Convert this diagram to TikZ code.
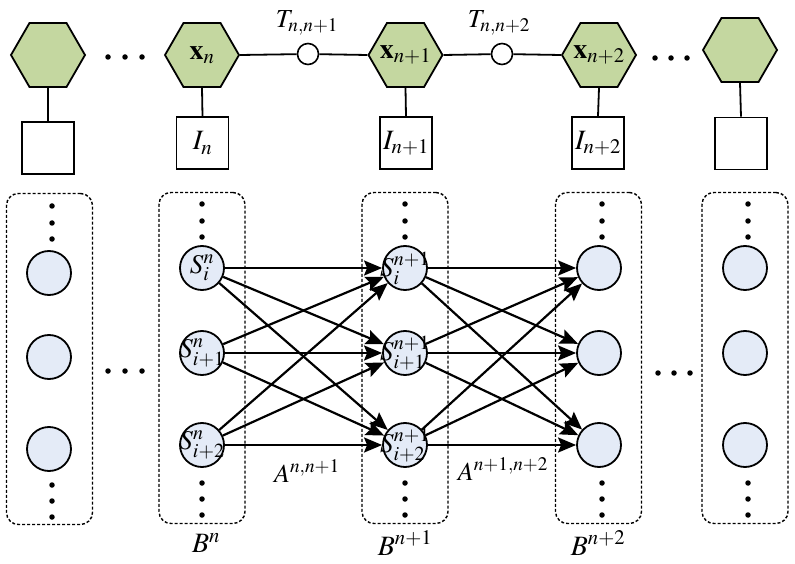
\documentclass[tikz,border=0pt]{standalone}
\usepackage{mathptmx}
\usetikzlibrary{shapes.geometric,arrows.meta}
\definecolor{hexgreen}{RGB}{196,215,160}
\definecolor{circblue}{RGB}{228,235,247}
\begin{document}
\begin{tikzpicture}[x=1pt,y=-1pt,
  hexnode/.style={regular polygon, regular polygon sides=6, minimum size=74pt, inner sep=0pt, draw, line width=1.8pt, fill=hexgreen},
  sqnode/.style={draw, line width=1.6pt, minimum size=52pt, inner sep=0pt, fill=white},
  tnode/.style={circle, draw, line width=1.6pt, minimum size=21pt, inner sep=0pt, fill=white},
  stnode/.style={circle, draw, line width=1.8pt, minimum size=44pt, inner sep=0pt, fill=circblue},
  boxnode/.style={draw, densely dashed, line width=1.4pt, rounded corners=12pt, minimum width=86pt, minimum height=331pt, inner sep=0pt},
  link/.style={line width=1.8pt},
  arr/.style={line width=2.2pt, -{Stealth[length=18pt,width=15pt,inset=3pt]}},
  intext/.style={font=\fontsize{28}{30}\selectfont, inner sep=0pt},
  sttext/.style={font=\fontsize{27}{29}\selectfont, inner sep=0pt},
  lab/.style={font=\fontsize{26}{28}\selectfont, inner sep=0pt},
  blab/.style={font=\fontsize{28}{30}\selectfont, inner sep=0pt},
  tlab/.style={font=\fontsize{26}{28}\selectfont, inner sep=0pt},
  dotn/.style={circle, fill=black, inner sep=0pt, minimum size=5.5pt}
]
\useasboundingbox (0,0) rectangle (795,564);

% dashed boxes
\node[boxnode] (b0) at (49.5,359) {};
\node[boxnode] (b1) at (202,358) {};
\node[boxnode] (b2) at (405,358) {};
\node[boxnode] (b3) at (598.5,358) {};
\node[boxnode] (b4) at (745,358) {};

% top row
\node[hexnode] (h0) at (48,55) {};
\node[hexnode] (h1) at (202,55) {};
\node[hexnode] (h2) at (405.5,55) {};
\node[hexnode] (h3) at (599,55) {};
\node[hexnode] (h4) at (740,50) {};
\node[intext] (h1t) at (h1) {$\mathbf{x}_{n}$};
\node[intext] (h2t) at (h2) {$\mathbf{x}_{n+1}$};
\node[intext] (h3t) at (h3) {$\mathbf{x}_{n+2}$};

\node[sqnode] (q0) at (48,148) {};
\node[sqnode] (q1) at (202.5,143) {};
\node[sqnode] (q2) at (406,143) {};
\node[sqnode] (q3) at (598,143) {};
\node[sqnode] (q4) at (741,143.5) {};
\node[intext] (q1t) at (q1) {$I_{n}$};
\node[intext] (q2t) at (q2) {$I_{n+1}$};
\node[intext] (q3t) at (q3) {$I_{n+2}$};

\node[tnode] (t1) at (308,54) {};
\node[tnode] (t2) at (502,54) {};
\node[tlab] (tl1) at (307,23) {$T_{n,n+1}$};
\node[tlab] (tl2) at (499,23) {$T_{n,n+2}$};

\draw[link] (h1.east) -- (t1) -- (h2.west);
\draw[link] (h2.east) -- (t2) -- (h3.west);
\foreach \i in {0,...,4} {\draw[link] (h\i.south) -- (q\i.north);}

% dots top
\foreach \x in {108,125,142} {\node[dotn] at (\x,57) {};}
\foreach \x in {655,671,687} {\node[dotn] at (\x,58) {};}
% dots middle
\foreach \x in {108,125,142} {\node[dotn] at (\x,371) {};}
\foreach \x in {658,674,690} {\node[dotn] at (\x,373) {};}

% state circles
\node[stnode] (s01) at (49,273) {};
\node[stnode] (s02) at (49,357) {};
\node[stnode] (s03) at (49,449) {};
\node[stnode] (s11) at (202,268) {};
\node[stnode] (s12) at (202,353) {};
\node[stnode] (s13) at (202,445) {};
\node[stnode] (s21) at (405,268) {};
\node[stnode] (s22) at (405,353) {};
\node[stnode] (s23) at (405,445) {};
\node[stnode] (s31) at (599,268) {};
\node[stnode] (s32) at (599,353) {};
\node[stnode] (s33) at (599,445) {};
\node[stnode] (s41) at (745,268) {};
\node[stnode] (s42) at (745,353) {};
\node[stnode] (s43) at (745,445) {};

% vertical dots in boxes
\foreach \x/\o in {52/2,202/0,405/0,602/0,748/0} {
  \foreach \y in {204,221,237} {\node[dotn] at (\x,\y+\o) {};}
  \foreach \y in {483,499,515} {\node[dotn] at (\x,\y+\o) {};}
}

% transitions
\foreach \a in {1,2,3} {
  \foreach \b in {1,2,3} {
    \draw[arr] (s1\a) -- (s2\b);
    \draw[arr] (s2\a) -- (s3\b);
  }
}

% circle texts (on top of arrows)
\node[sttext] (s11t) at (s11) {$S^{n}_{i}$};
\node[sttext] (s12t) at (s12) {$S^{n}_{i+1}$};
\node[sttext] (s13t) at (s13) {$S^{n}_{i+2}$};
\node[sttext] (s21t) at (s21) {$S^{n+1}_{i}$};
\node[sttext] (s22t) at (s22) {$S^{n+1}_{i+1}$};
\node[sttext] (s23t) at (s23) {$S^{n+1}_{i+2}$};

\node[lab] (a1) at (307,471) {$A^{n,n+1}$};
\node[lab] (a2) at (503,469) {$A^{n+1,n+2}$};
\node[blab] (bl1) at (206,543) {$B^{n}$};
\node[blab] (bl2) at (405,543) {$B^{n+1}$};
\node[blab] (bl3) at (598,543) {$B^{n+2}$};
\end{tikzpicture}
\end{document}
